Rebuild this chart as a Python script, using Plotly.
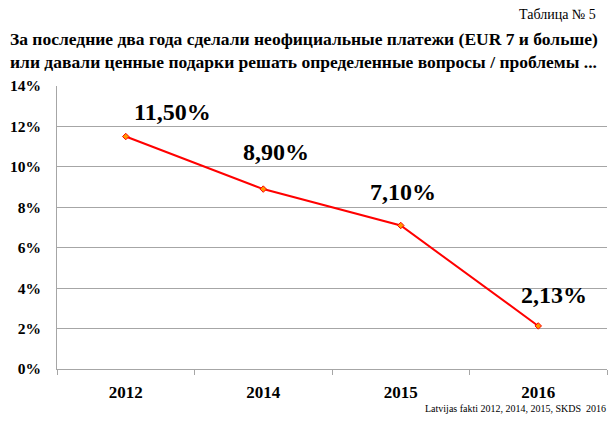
import plotly.graph_objects as go

years = ["2012", "2014", "2015", "2016"]
values = [0.115, 0.089, 0.071, 0.0213]
labels = ["11,50%", "8,90%", "7,10%", "2,13%"]
y_ticks = [0, 0.02, 0.04, 0.06, 0.08, 0.10, 0.12, 0.14]
y_tick_text = ["0%", "2%", "4%", "6%", "8%", "10%", "12%", "14%"]

# label offsets (pixels) relative to each point
label_dx = [47, 13, 2, 16]
label_dy = [25, 37, 33, 31]

serif = "Liberation Serif, Times New Roman, serif"

fig = go.Figure()
fig.add_trace(go.Scatter(
    x=years, y=values, mode="lines+markers",
    line=dict(color="#ff0000", width=2),
    marker=dict(color="#ff9900", size=5, symbol="diamond",
                line=dict(color="#ff0000", width=1)),
    hoverinfo="skip", showlegend=False,
))

for i, (v, t) in enumerate(zip(values, labels)):
    fig.add_annotation(x=i, y=v, text="<b>" + t + "</b>", showarrow=False,
                       xshift=label_dx[i], yshift=label_dy[i],
                       font=dict(family=serif, size=24, color="#000000"))

fig.add_annotation(xref="paper", yref="paper", x=1.0, y=1.0, yshift=72,
                   xshift=-9, xanchor="right", yanchor="middle", showarrow=False,
                   text="Таблица № 5",
                   font=dict(family=serif, size=14, color="#000000"))
fig.add_annotation(xref="paper", yref="paper", x=-0.09, y=1.0, yshift=36,
                   xanchor="left", yanchor="middle", showarrow=False,
                   align="left",
                   text="<b>За последние два года сделали неофициальные платежи (EUR 7 и больше)<br>или давали ценные подарки решать определенные вопросы / проблемы ...</b>",
                   font=dict(family=serif, size=17.5, color="#000000"))
fig.add_annotation(xref="paper", yref="paper", x=1.0, y=0, yshift=-39,
                   xshift=1, xanchor="right", yanchor="middle", showarrow=False,
                   text="Latvijas fakti 2012, 2014, 2015, SKDS  2016",
                   font=dict(family=serif, size=10, color="#000000"))

fig.update_layout(
    width=612, height=421,
    margin=dict(l=57, r=5, t=86, b=52),
    paper_bgcolor="white", plot_bgcolor="white",
    font=dict(family=serif, color="#000000"),
    xaxis=dict(
        type="category", categoryorder="array", categoryarray=years,
        ticktext=["<b>" + y + "</b>" for y in years], tickvals=years,
        tickson="boundaries", ticks="outside", ticklen=5, tickcolor="#a6a6a6",
        ticklabelstandoff=8,
        showline=True, linecolor="#a6a6a6", linewidth=1,
        showgrid=False, range=[-0.5, len(years) - 0.5],
        tickfont=dict(family=serif, size=17, color="#000000"),
    ),
    yaxis=dict(
        range=[0, 0.14], tickvals=y_ticks,
        ticktext=["<b>" + t + "</b>" for t in y_tick_text],
        showgrid=True, gridcolor="#a6a6a6", gridwidth=1,
        showline=True, linecolor="#a6a6a6", linewidth=1,
        ticks="", zeroline=False, ticklabelstandoff=12,
        tickfont=dict(family=serif, size=15.5, color="#000000"),
    ),
)

fig.write_html("out.html", config={"displayModeBar": False},
               post_script="document.body.style.margin='0';")
